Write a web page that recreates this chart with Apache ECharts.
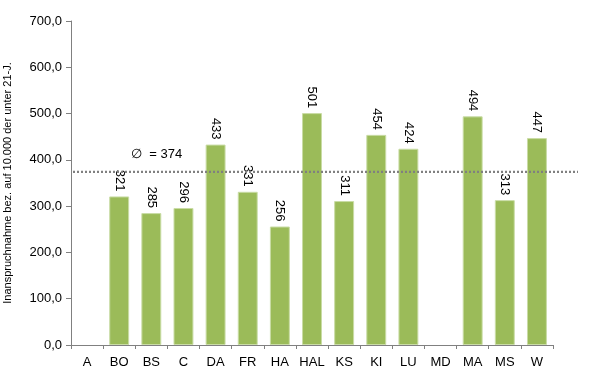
<!DOCTYPE html>
<html>
<head>
<meta charset="utf-8">
<script src="https://cdn.jsdelivr.net/npm/echarts@6/dist/echarts.min.js"></script>
<style>html,body{margin:0;padding:0;background:#fff}#c{width:611px;height:381px}</style>
</head>
<body>
<div id="c"></div>
<script>
const categories = ['A','BO','BS','C','DA','FR','HA','HAL','KS','KI','LU','MD','MA','MS','W'];
const values = [null,321,285,296,433,331,256,501,311,454,424,null,494,313,447];
const average = 374;
const averageLabel = '\u2205  = 374';
const yTicks = [0,100,200,300,400,500,600,700];
const yAxisTitle = 'Inanspruchnahme bez. auf 10.000 der unter 21-J.';

const font = 'Liberation Sans, Arial, sans-serif';
const chart = echarts.init(document.getElementById('c'), null, {renderer:'canvas'});
chart.setOption({
  animation:false,
  backgroundColor:'#fff',
  grid:{left:71,right:58,top:21,bottom:36,containLabel:false,outerBoundsMode:'none'},
  xAxis:{
    type:'category',
    data:categories,
    axisLine:{lineStyle:{color:'#808080',width:1}},
    axisTick:{show:true,alignWithLabel:false,interval:0,length:4,lineStyle:{color:'#808080'}},
    axisLabel:{color:'#000',fontFamily:font,fontSize:13,margin:11,interval:0}
  },
  yAxis:{
    type:'value',
    min:yTicks[0],max:yTicks[yTicks.length-1],interval:100,
    name:yAxisTitle,
    nameLocation:'middle',
    nameGap:58,
    nameTextStyle:{color:'#000',fontFamily:font,fontSize:11},
    axisLine:{show:true,lineStyle:{color:'#808080',width:1}},
    axisTick:{show:true,length:5,lineStyle:{color:'#808080'}},
    splitLine:{show:false},
    axisLabel:{color:'#000',fontFamily:font,fontSize:13,margin:9,
      formatter:v=>v.toFixed(1).replace('.',',')}
  },
  series:[
    {
      type:'bar',
      data:values,
      barCategoryGap:'38%',
      itemStyle:{color:'#9BBB59',borderColor:'#C9DCA5',borderWidth:1},
      label:{show:true,position:'top',rotate:-90,align:'right',verticalAlign:'middle',distance:5,
        color:'#000',fontFamily:font,fontSize:13}
    },
    {
      type:'custom',
      clip:false,
      silent:true,
      z:5,
      data:[[0,average]],
      renderItem:function(params,api){
        const cs = params.coordSys;
        const y = api.coord([0,api.value(1)])[1];
        return {type:'group',children:[
          {type:'line',shape:{x1:cs.x+2,y1:y,x2:cs.x+cs.width+25,y2:y},
            style:{stroke:'#808080',lineWidth:2.2,lineDash:[2,2]}},
          {type:'text',x:cs.x+60,y:y-17,style:{text:averageLabel,fill:'#000',
            font:'13px '+font,verticalAlign:'middle',align:'left'}}
        ]};
      }
    }
  ]
});
</script>
</body>
</html>
